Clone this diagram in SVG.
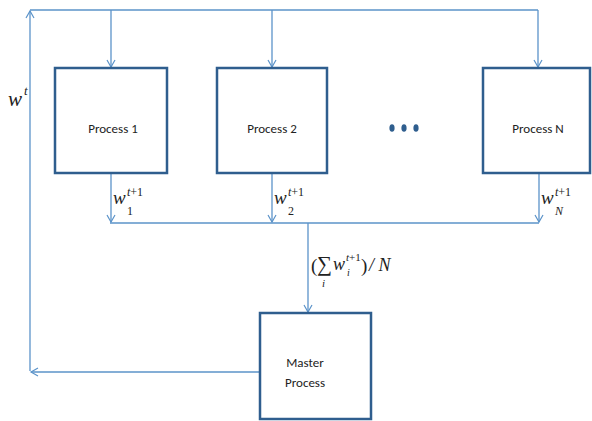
<svg xmlns="http://www.w3.org/2000/svg" width="592" height="421" viewBox="0 0 592 421">
<style>
.box{fill:#fff;stroke:#2f5e8e;stroke-width:2.5}
.lbl{font-family:Calibri,"Open Sans","Liberation Sans",sans-serif;font-size:13px;fill:#222;text-anchor:middle}
.mi{font-family:"Liberation Serif","DejaVu Serif",serif;font-style:italic;fill:#222}
.mn{font-family:"Liberation Serif","DejaVu Serif",serif;font-style:normal;fill:#222}
.con{fill:none;stroke:#5b93c9;stroke-width:1.3}
</style>
<defs>
<marker id="ah" markerWidth="10" markerHeight="10" refX="8" refY="5" orient="auto" markerUnits="userSpaceOnUse">
<path d="M1,1 L8,5 L1,9" fill="none" stroke="#5b93c9" stroke-width="1.2"/>
</marker>
</defs>
<rect width="592" height="421" fill="#fff"/>
<g id="connectors">
<path class="con" d="M30,371 L30,11" marker-end="url(#ah)"/>
<path class="con" d="M30,10 L538,10"/>
<path class="con" d="M111,10 L111,67" marker-end="url(#ah)"/>
<path class="con" d="M272,10 L272,67" marker-end="url(#ah)"/>
<path class="con" d="M538,10 L538,67" marker-end="url(#ah)"/>
<path class="con" d="M111,174 L111,222" marker-end="url(#ah)"/>
<path class="con" d="M272,174 L272,222" marker-end="url(#ah)"/>
<path class="con" d="M539,174 L539,222" marker-end="url(#ah)"/>
<path class="con" d="M110,223 L539,223"/>
<path class="con" d="M308,223 L308,312" marker-end="url(#ah)"/>
<path class="con" d="M259,372 L31,372" marker-end="url(#ah)"/>
</g>
<g id="process1">
<rect class="box" x="55" y="68" width="112" height="105"/>
<text class="lbl" x="113" y="133">Process 1</text>
</g>
<g id="process2">
<rect class="box" x="217" y="68" width="110" height="105"/>
<text class="lbl" x="272" y="133">Process 2</text>
</g>
<g id="ellipsis">
<ellipse cx="392" cy="128" rx="2.6" ry="3.8" fill="#2f5e8e"/>
<ellipse cx="404" cy="128" rx="2.6" ry="3.8" fill="#2f5e8e"/>
<ellipse cx="416" cy="128" rx="2.6" ry="3.8" fill="#2f5e8e"/>
</g>
<g id="processN">
<rect class="box" x="483" y="68" width="107" height="105"/>
<text class="lbl" x="538" y="133">Process N</text>
</g>
<g id="master">
<rect class="box" x="260" y="313" width="111" height="106"/>
<text class="lbl" x="305" y="367">Master</text>
<text class="lbl" x="305" y="387">Process</text>
</g>
<g id="labels">
<text class="mi" x="8" y="106" style="font-size:21px">w</text>
<text class="mi" x="24" y="95" style="font-size:13px">t</text>

<text class="mi" x="113" y="204" style="font-size:19px">w</text>
<text class="mi" x="127" y="196" style="font-size:12px">t<tspan class="mn">+1</tspan></text>
<text class="mn" x="127" y="215" style="font-size:12px">1</text>

<text class="mi" x="274" y="204" style="font-size:19px">w</text>
<text class="mi" x="288" y="196" style="font-size:12px">t<tspan class="mn">+1</tspan></text>
<text class="mn" x="288" y="215" style="font-size:12px">2</text>

<text class="mi" x="541" y="204" style="font-size:19px">w</text>
<text class="mi" x="555" y="196" style="font-size:12px">t<tspan class="mn">+1</tspan></text>
<text class="mi" x="555" y="215" style="font-size:12px">N</text>

<text class="mn" x="311" y="272" style="font-size:19px">(</text>
<text class="mn" x="317" y="271" style="font-size:21px">∑</text>
<text class="mi" x="322" y="287" style="font-size:11px">i</text>
<text class="mi" x="333" y="270" style="font-size:18px">w</text>
<text class="mi" x="346" y="261" style="font-size:11px">t<tspan class="mn">+1</tspan></text>
<text class="mi" x="347" y="276" style="font-size:10px">i</text>
<text class="mn" x="361" y="272" style="font-size:19px">)</text>
<text class="mi" x="369" y="271" style="font-size:18px">/ N</text>
</g>
</svg>
